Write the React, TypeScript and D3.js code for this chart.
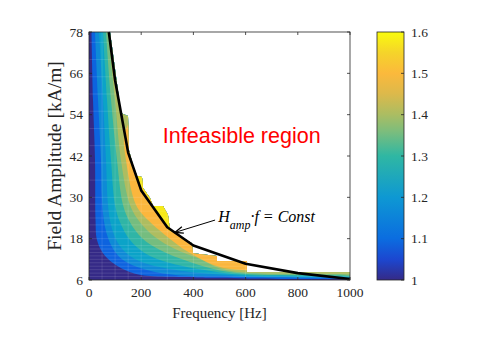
import React from "react";
import * as d3 from "d3";

// axes ranges and ticks
const xTicks = [0, 200, 400, 600, 800, 1000];
const yTicks = [6, 18, 30, 42, 54, 66, 78];
const cbTicks = [1, 1.1, 1.2, 1.3, 1.4, 1.5, 1.6];

// filled contour bands, low -> high
const bandColors = [
    "#352a87",
    "#0d63df",
    "#0e8ad6",
    "#0ba3c8",
    "#2fb5a6",
    "#75bd7f",
    "#aebd60",
    "#fbb63d",
    "#f6ea18",
];

// parula-ish stops for the colorbar
const cbStops = [
    [0, "#352a87"],
    [0.083, "#1c47d0"],
    [0.167, "#0b6de0"],
    [0.333, "#0e98d3"],
    [0.5, "#2fb7a3"],
    [0.6, "#7dbd7c"],
    [0.667, "#abbd62"],
    [0.75, "#dcb94b"],
    [0.833, "#fbb93c"],
    [0.917, "#f5d42a"],
    [1, "#f9fb0e"],
];

// contour edges [freq Hz, amplitude kA/m], lower-left edge of each band above navy
const edge1 = [[9.6, 78], [15.3, 58.3], [23, 40.8], [24.9, 23.4], [30.6, 17.6], [53.6, 13.8], [91.9, 10.9], [137.9, 8.9], [199.2, 7.45], [425, 6.73], [501.9, 6.64], [616.8, 6.46], [808.3, 6.29], [1000, 6.17]];
const edge2 = [[23, 78], [34.5, 58.3], [46, 40.8], [49.8, 29.2], [61.3, 21.4], [88.1, 15.6], [130.3, 11.8], [222.2, 8.9], [348.6, 7.3], [501.9, 7.07], [616.8, 6.78], [808.3, 6.58], [1000, 6.44]];
const edge3 = [[38.3, 78], [53.6, 58.3], [65.1, 40.8], [72.8, 27.8], [84.3, 22], [111.1, 16.7], [157.1, 13], [233.7, 10.4], [386.9, 8.3], [501.9, 7.6], [616.8, 7.07], [808.3, 6.87], [1000, 6.7]];
const edge4 = [[53.6, 78], [69, 58.3], [84.3, 40.8], [99.6, 27.8], [118.8, 22.8], [157.1, 17.6], [214.5, 13.8], [310.3, 10.9], [501.9, 8.18], [616.8, 7.36], [808.3, 7.16], [1000, 6.96]];
const edge5 = [[65.1, 78], [84.3, 58.3], [107.3, 40.8], [130.3, 27.8], [157.1, 22.8], [203, 18.2], [272, 14.7], [386.9, 11.2], [501.9, 8.76], [616.8, 7.68], [808.3, 7.45], [1000, 7.25]];
const edge6 = [[72.8, 78], [99.6, 58.3], [122.6, 40.8], [157.1, 27.8], [195.4, 22.8], [252.8, 18.5], [329.5, 15], [425.2, 12.1], [501.9, 9.34], [616.8, 8.03], [808.3, 7.8], [1000, 7.6]];
const edge7 = [[88.1, 78], [118.8, 61.2], [153.2, 52.5], [134, 48.1], [141.7, 40.8], [180.1, 27.8], [226, 23.4], [291.2, 19.1], [386.9, 13.84], [501.9, 9.77], [616.8, 8.76], [808.3, 8.47], [1000, 8.38]];
const edge8 = [[103.4, 78], [141.7, 58.3], [160.9, 43.7], [176.2, 37.9], [187.7, 35.6], [203, 32.7], [233.7, 29.2], [260.5, 25.7], [287.4, 22.5], [310.3, 20.2], [386.9, 19.4], [501.9, 14.4], [655.1, 11.2], [1000, 10.1]];
const edges = [edge1, edge2, edge3, edge4, edge5, edge6, edge7, edge8];

// where the computed data stops (infeasible cells are blank)
const dataFreq = [0, 80.5, 122.6, 149.4, 153.2, 168.6, 183.9, 203, 206.9, 233.7, 245.2, 283.5, 302.6, 310.3, 394.6, 398.4, 490.4, 490.4, 605.3, 605.3, 1000, 1000, 0];
const dataAmp = [78, 78, 54.5, 53.6, 43.7, 39.4, 36.2, 35.9, 32.7, 29.8, 27.5, 27.5, 24.9, 20.5, 16.7, 13.8, 13, 11.5, 11.5, 8.3, 8.3, 6, 6];

// sample grid of the computation (faint seams between patches)
const gridFreq = [50, 100, 150, 200, 300, 400, 600, 800];
const gridAmp = [7, 8, 9, 10, 11, 12, 13, 14, 15, 16, 18, 20, 22, 24, 26, 28, 30, 35, 40, 45, 50, 55, 60, 65, 70, 75];

// H_amp * f = Const
const limitFreq = [76, 100, 150, 200, 300, 400, 600, 800, 1000];
const limitAmp = [78, 64, 43, 32, 21.3, 16, 10.7, 8, 6.3];

const axisColor = "#262626";
const serif = "'Liberation Serif', 'Times New Roman', serif";

export default function App() {
    const width = 481;
    const height = 350;
    const x = d3.scaleLinear().domain([0, 1000]).range([89, 350]);
    const y = d3.scaleLinear().domain([6, 78]).range([280, 32]);
    const cb = d3.scaleLinear().domain([1, 1.6]).range([280, 32]);
    const cbX = 377;
    const cbW = 27;

    const smooth = d3
        .line()
        .x((d) => x(d[0]))
        .y((d) => y(d[1]))
        .curve(d3.curveCatmullRom.alpha(0.5));

    const bandPath = (pts) => smooth(pts) + `L${x(1000) + 1},${y(78) - 1}Z`;

    const maskPath = d3
        .line()
        .x((d, i) => x(dataFreq[i]))
        .y((d, i) => y(dataAmp[i]))(dataFreq.map((d, i) => i)) + "Z";

    const limitPath = d3
        .line()
        .x((d, i) => x(limitFreq[i]))
        .y((d, i) => y(limitAmp[i]))(limitFreq.map((d, i) => i));

    const [x0, x1] = x.range();
    const [y0, y1] = y.range();

    // arrow of the text annotation
    const tip = [x(329), y(19.8)];
    const tail = [x(483), y(23.4)];
    const ang = Math.atan2(tail[1] - tip[1], tail[0] - tip[0]);
    const wing = (a) => [tip[0] + 9 * Math.cos(ang + a), tip[1] + 9 * Math.sin(ang + a)];

    return (
        <div style={{ position: "absolute", left: 0, top: 0 }}>
            <svg width={width} height={height} style={{ display: "block", background: "#fff" }}>
                <defs>
                    <clipPath id="dataClip">
                        <path d={maskPath} />
                    </clipPath>
                    <linearGradient id="parula" x1="0" y1="1" x2="0" y2="0">
                        {cbStops.map(([o, c]) => (
                            <stop key={o} offset={o} stopColor={c} />
                        ))}
                    </linearGradient>
                </defs>

                {/* contour bands */}
                <g clipPath="url(#dataClip)">
                    <rect x={x0} y={y1} width={x1 - x0} height={y0 - y1} fill={bandColors[0]} />
                    {edges.map((e, i) => (
                        <path key={i} d={bandPath(e)} fill={bandColors[i + 1]} />
                    ))}
                    <g stroke="#fff" strokeOpacity={0.17} strokeWidth={0.7}>
                        {gridFreq.map((f) => (
                            <line key={"gf" + f} x1={x(f)} x2={x(f)} y1={y1} y2={y0} />
                        ))}
                        {gridAmp.map((a) => (
                            <line key={"ga" + a} x1={x0} x2={x1} y1={y(a)} y2={y(a)} />
                        ))}
                    </g>
                </g>

                {/* feasibility limit */}
                <path d={limitPath} fill="none" stroke="#000" strokeWidth={2.6} strokeLinejoin="round" />

                {/* axes box and ticks */}
                <rect x={x0} y={y1} width={x1 - x0} height={y0 - y1} fill="none" stroke={axisColor} strokeWidth={0.8} />
                {xTicks.map((t) => (
                    <g key={"x" + t}>
                        <line x1={x(t)} x2={x(t)} y1={y0} y2={y0 - 3} stroke={axisColor} strokeWidth={0.8} />
                        <line x1={x(t)} x2={x(t)} y1={y1} y2={y1 + 3} stroke={axisColor} strokeWidth={0.8} />
                        <text x={x(t)} y={y0 + 17} textAnchor="middle" fontFamily={serif} fontSize={13.5} fill={axisColor}>
                            {t}
                        </text>
                    </g>
                ))}
                {yTicks.map((t) => (
                    <g key={"y" + t}>
                        <line x1={x0} x2={x0 + 3} y1={y(t)} y2={y(t)} stroke={axisColor} strokeWidth={0.8} />
                        <line x1={x1} x2={x1 - 3} y1={y(t)} y2={y(t)} stroke={axisColor} strokeWidth={0.8} />
                        <text x={x0 - 6} y={y(t) + 4.5} textAnchor="end" fontFamily={serif} fontSize={13.5} fill={axisColor}>
                            {t}
                        </text>
                    </g>
                ))}
                <text x={(x0 + x1) / 2} y={318} textAnchor="middle" fontFamily={serif} fontSize={15} fill={axisColor}>
                    Frequency [Hz]
                </text>
                <text
                    transform={`translate(61,${(y0 + y1) / 2}) rotate(-90)`}
                    textAnchor="middle"
                    fontFamily={serif}
                    fontSize={19.5}
                    fill={axisColor}
                >
                    Field Amplitude [kA/m]
                </text>

                {/* annotations */}
                <text x={x(283)} y={y(45.8)} fontFamily="'Liberation Sans', Arial, sans-serif" fontSize={21.5} fill="#ff0000">
                    Infeasible region
                </text>
                <line x1={tail[0]} y1={tail[1]} x2={tip[0]} y2={tip[1]} stroke="#000" strokeWidth={1} />
                <path
                    d={`M${wing(0.38)[0]},${wing(0.38)[1]}L${tip[0]},${tip[1]}L${wing(-0.38)[0]},${wing(-0.38)[1]}`}
                    fill="none"
                    stroke="#000"
                    strokeWidth={1.3}
                />
                <text x={x(495)} y={y(22.8)} fontFamily={serif} fontStyle="italic" fontSize={16} fill="#000">
                    H
                    <tspan fontSize={12} dy={7}>amp</tspan>
                    <tspan dy={-7}>{"\u00b7f = Const"}</tspan>
                </text>

                {/* colorbar */}
                <rect x={cbX} y={cb(1.6)} width={cbW} height={cb(1) - cb(1.6)} fill="url(#parula)" />
                <rect x={cbX} y={cb(1.6)} width={cbW} height={cb(1) - cb(1.6)} fill="none" stroke={axisColor} strokeWidth={0.8} />
                {cbTicks.map((t) => (
                    <g key={"c" + t}>
                        <line x1={cbX + cbW} x2={cbX + cbW - 3} y1={cb(t)} y2={cb(t)} stroke={axisColor} strokeWidth={0.8} />
                        <text x={cbX + cbW + 7} y={cb(t) + 4.5} fontFamily={serif} fontSize={13.5} fill={axisColor}>
                            {d3.format("~g")(t)}
                        </text>
                    </g>
                ))}
            </svg>
        </div>
    );
}
